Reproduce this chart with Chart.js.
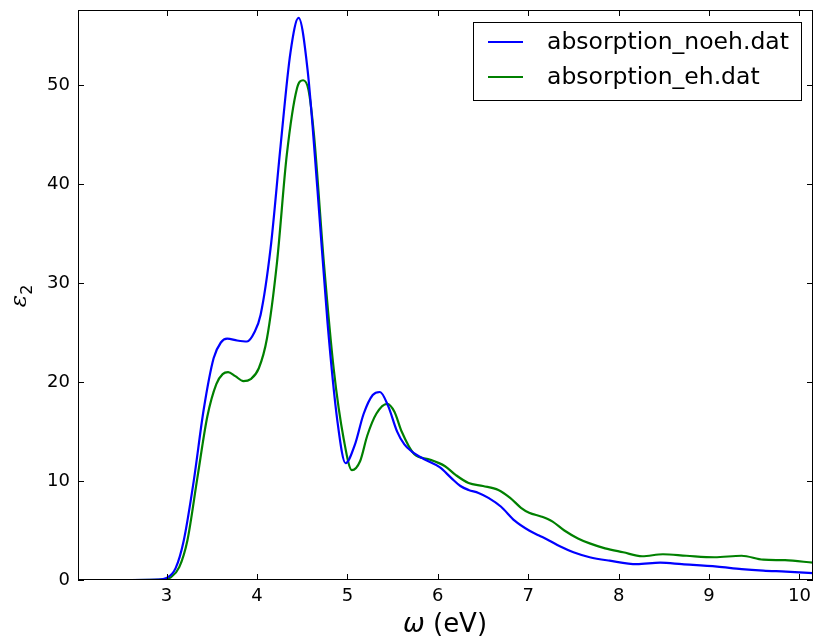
<!DOCTYPE html>
<html>
<head>
<meta charset="utf-8">
<script src="https://cdn.jsdelivr.net/npm/chart.js@4/dist/chart.umd.min.js"></script>
<style>
  html, body { margin: 0; padding: 0; background: #fff; }
  #wrap { width: 815px; height: 640px; }
</style>
</head>
<body>
<div id="wrap"><canvas id="c" width="815" height="640"></canvas></div>
<script>
// ---- data ----
const noehX = [2.02, 2.5, 2.9, 3.0, 3.1, 3.19, 3.3, 3.41, 3.52, 3.6, 3.67, 3.78, 3.89, 3.97, 4.04, 4.15, 4.26, 4.37, 4.46, 4.56, 4.67, 4.78, 4.89, 4.98, 5.08, 5.18, 5.28, 5.36, 5.45, 5.55, 5.63, 5.71, 5.85, 6.02, 6.15, 6.25, 6.34, 6.45, 6.56, 6.7, 6.85, 7.01, 7.12, 7.23, 7.35, 7.5, 7.68, 7.9, 8.2, 8.46, 8.7, 9.09, 9.36, 9.6, 9.85, 10.15];
const noehY = [0, 0, 0.05, 0.2, 1.2, 4.0, 10.0, 17.2, 22.4, 24.0, 24.4, 24.2, 24.1, 25.0, 26.8, 33.5, 43.8, 53.3, 56.8, 51.5, 39.3, 26.0, 16.0, 11.8, 13.6, 16.8, 18.7, 19.0, 17.6, 15.0, 13.7, 13.0, 12.2, 11.4, 10.3, 9.5, 9.1, 8.8, 8.3, 7.4, 6.0, 5.0, 4.5, 4.0, 3.4, 2.8, 2.3, 1.95, 1.6, 1.75, 1.6, 1.35, 1.1, 0.95, 0.85, 0.7];
const ehX = [2.02, 2.5, 2.95, 3.05, 3.14, 3.23, 3.34, 3.45, 3.55, 3.62, 3.68, 3.76, 3.85, 3.93, 4.02, 4.11, 4.22, 4.33, 4.44, 4.51, 4.57, 4.63, 4.74, 4.85, 4.96, 5.05, 5.14, 5.22, 5.32, 5.44, 5.52, 5.6, 5.74, 5.9, 6.08, 6.2, 6.34, 6.5, 6.67, 6.8, 6.92, 7.01, 7.15, 7.27, 7.4, 7.55, 7.68, 7.85, 8.05, 8.26, 8.49, 8.75, 9.06, 9.36, 9.6, 9.84, 10.15];
const ehY = [0, 0, 0.05, 0.3, 1.3, 4.0, 10.3, 16.5, 19.8, 20.8, 21.0, 20.6, 20.1, 20.3, 21.4, 24.4, 32.0, 43.0, 49.6, 50.5, 49.5, 45.0, 32.0, 21.2, 14.2, 11.1, 12.0, 14.6, 16.8, 17.8, 17.0, 15.0, 12.7, 12.2, 11.5, 10.6, 9.8, 9.5, 9.1, 8.3, 7.3, 6.8, 6.4, 5.9, 5.0, 4.2, 3.7, 3.2, 2.8, 2.4, 2.6, 2.45, 2.3, 2.45, 2.05, 2.0, 1.75];
const seriesLabels = ['absorption_noeh.dat', 'absorption_eh.dat'];
const xTicks = [3, 4, 5, 6, 7, 8, 9, 10];
const yTicks = [0, 10, 20, 30, 40, 50];
const xRange = [2.02, 10.15];
const yRange = [0, 57.6];

const toPts = (xs, ys) => xs.map((v, i) => ({ x: v, y: ys[i] }));
const colors = ['#0000ff', '#008000'];

const framePlugin = {
  id: 'frame',
  afterDraw(chart) {
    const { ctx, chartArea: a, scales: { x, y } } = chart;
    ctx.save();
    ctx.strokeStyle = '#000';
    ctx.lineWidth = 1;
    ctx.strokeRect(a.left + 0.5, a.top + 0.5, a.right - a.left - 1, a.bottom - a.top - 1);
    ctx.beginPath();
    const tl = 6;
    xTicks.forEach(v => {
      const px = Math.round(x.getPixelForValue(v)) + 0.5;
      ctx.moveTo(px, a.bottom); ctx.lineTo(px, a.bottom - tl);
      ctx.moveTo(px, a.top); ctx.lineTo(px, a.top + tl);
    });
    yTicks.forEach(v => {
      const py = Math.round(y.getPixelForValue(v)) + 0.5;
      ctx.moveTo(a.left, py); ctx.lineTo(a.left + tl, py);
      ctx.moveTo(a.right, py); ctx.lineTo(a.right - tl, py);
    });
    ctx.stroke();

    // legend
    const bx = a.right - 340, by = a.top + 12, bw = 328, bh = 78;
    ctx.fillStyle = '#fff';
    ctx.fillRect(bx, by, bw, bh);
    ctx.strokeRect(bx + 0.5, by + 0.5, bw, bh);
    ctx.font = '23.5px "DejaVu Sans"';
    ctx.textBaseline = 'middle';
    ctx.textAlign = 'left';
    chart.data.datasets.forEach((ds, i) => {
      const ly = by + 20 + i * 35;
      ctx.strokeStyle = ds.borderColor;
      ctx.lineWidth = 2;
      ctx.beginPath();
      ctx.moveTo(bx + 15, ly); ctx.lineTo(bx + 50, ly);
      ctx.stroke();
      ctx.fillStyle = '#000';
      ctx.fillText(ds.label, bx + 74, ly + 1);
    });

    // axis titles
    ctx.fillStyle = '#000';
    ctx.textBaseline = 'alphabetic';
    ctx.font = 'italic 26px "DejaVu Sans"';
    const w1 = ctx.measureText('ω').width;
    ctx.font = '26px "DejaVu Sans"';
    const w2 = ctx.measureText(' (eV)').width;
    const sx = 445 - (w1 + w2) / 2;
    ctx.font = 'italic 26px "DejaVu Sans"';
    ctx.fillText('ω', sx, 632);
    ctx.font = '26px "DejaVu Sans"';
    ctx.fillText(' (eV)', sx + w1, 632);
    // y title: epsilon_2 rotated
    ctx.translate(26, 296);
    ctx.rotate(-Math.PI / 2);
    ctx.font = 'italic 23px "DejaVu Serif"';
    const we = ctx.measureText('ε').width;
    ctx.fillText('ε', -we / 2 - 5, 0);
    ctx.font = '16px "DejaVu Sans"';
    ctx.fillText('2', we / 2 - 5, 6);
    ctx.restore();
  }
};

const noPad = s => { s.paddingTop = 0; s.paddingBottom = 0; s.paddingLeft = 0; s.paddingRight = 0; };

new Chart(document.getElementById('c'), {
  type: 'line',
  data: {
    datasets: [
      { label: seriesLabels[0], data: toPts(noehX, noehY), borderColor: colors[0], backgroundColor: colors[0], borderWidth: 2.2, pointRadius: 0, cubicInterpolationMode: 'monotone', fill: false },
      { label: seriesLabels[1], data: toPts(ehX, ehY), borderColor: colors[1], backgroundColor: colors[1], borderWidth: 2.2, pointRadius: 0, cubicInterpolationMode: 'monotone', fill: false }
    ]
  },
  options: {
    responsive: false,
    animation: false,
    layout: { padding: { top: 10, right: 2, left: 0, bottom: 0 } },
    plugins: { legend: { display: false }, tooltip: { enabled: false } },
    scales: {
      x: {
        type: 'linear', min: xRange[0], max: xRange[1],
        grid: { display: false, drawTicks: false },
        border: { display: false },
        afterBuildTicks: s => { s.ticks = xTicks.map(v => ({ value: v })); },
        afterFit: s => { s.height = 60; noPad(s); },
        ticks: { color: '#000', font: { family: 'DejaVu Sans', size: 18 }, padding: 6, maxRotation: 0, autoSkip: false, callback: v => String(v) }
      },
      y: {
        type: 'linear', min: yRange[0], max: yRange[1],
        grid: { display: false, drawTicks: false },
        border: { display: false },
        afterBuildTicks: s => { s.ticks = yTicks.map(v => ({ value: v })); },
        afterFit: s => { s.width = 78; noPad(s); },
        ticks: { color: '#000', font: { family: 'DejaVu Sans', size: 18 }, padding: 8, autoSkip: false, callback: v => String(v) }
      }
    }
  },
  plugins: [framePlugin]
});
</script>
</body>
</html>
